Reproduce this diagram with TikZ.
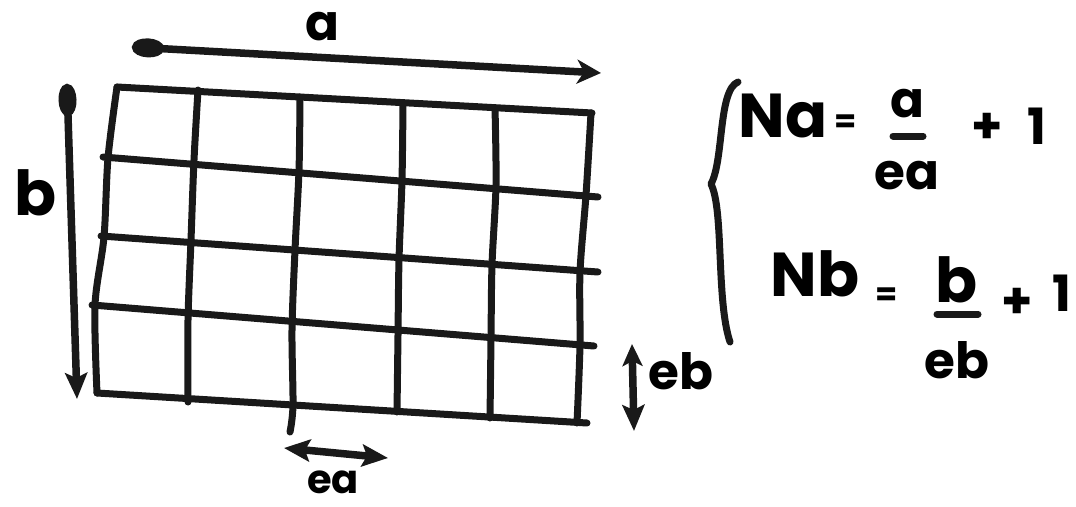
\documentclass[tikz,border=0pt]{standalone}
\usepackage{fontspec}
\setmainfont{Poppins}
\usetikzlibrary{arrows.meta}
\begin{document}
\begin{tikzpicture}[x=1pt,y=-1pt,
  ink/.style={line width=7pt,line cap=round,line join=round,color=black!90},
  gridline/.style={ink},
  dimarrow/.style={ink,line width=7.5pt},
  lbl/.style={inner sep=0pt,font=\fontsize{50}{54}\selectfont\bfseries},
  smlbl/.style={inner sep=0pt,font=\fontsize{40}{44}\selectfont\bfseries},
  biglbl/.style={inner sep=0pt,font=\fontsize{62}{66}\selectfont\bfseries},
  smalllbl/.style={inner sep=0pt,font=\fontsize{32}{36}\selectfont\bfseries},
]
\path[use as bounding box] (0,0) rectangle (1076,506);

% grid: horizontal lines
\coordinate (h0l) at (117,87);  \coordinate (h0r) at (592,113);
\coordinate (h1l) at (103,157); \coordinate (h1r) at (598,197);
\coordinate (h2l) at (101,236); \coordinate (h2r) at (598,272);
\coordinate (h3l) at (92,305);  \coordinate (h3r) at (594,346);
\coordinate (h4l) at (97,393);  \coordinate (h4r) at (587,423);
\draw[gridline] (h0l) -- (h0r);
\draw[gridline] (h1l) -- (h1r);
\draw[gridline] (h2l) -- (h2r);
\draw[gridline] (h3l) -- (h3r);
\draw[gridline] (h4l) -- (h4r);

% grid: vertical lines
\draw[gridline] plot[smooth] coordinates {(117,87) (108,158) (104,237) (95,305) (97,393)};
\draw[gridline] plot[smooth] coordinates {(198,90) (194,160) (191,240) (188,320) (188,402)};
\draw[gridline] plot[smooth] coordinates {(300,97) (299,170) (295,250) (292,330) (293,405) (290,432)};
\draw[gridline] plot[smooth] coordinates {(403,103) (402,180) (399,260) (398,335) (397,412)};
\draw[gridline] plot[smooth] coordinates {(495,108) (496,185) (492,265) (491,340) (490,418)};
\draw[gridline] plot[smooth] coordinates {(591,113) (586,195) (580,272) (580,345) (577,423)};

% dimension arrows
\coordinate (aS) at (132,47);  \coordinate (aE) at (601,73);
\draw[dimarrow,{Ellipse[length=32pt,width=19pt]}-{Stealth[length=24pt,width=24pt,inset=7pt]}] (aS) -- (aE);
\coordinate (bS) at (67,84);  \coordinate (bE) at (77,399);
\draw[dimarrow,{Ellipse[length=32pt,width=18pt]}-{Stealth[length=26pt,width=22pt,inset=5pt]}] (bS) -- (bE);
\coordinate (eaS) at (284,448); \coordinate (eaE) at (388,458);
\draw[dimarrow,{Stealth[length=26pt,width=22pt,inset=5pt]}-{Stealth[length=26pt,width=22pt,inset=5pt]}] (eaS) -- (eaE);
\coordinate (ebS) at (632,344); \coordinate (ebE) at (634,431);
\draw[dimarrow,{Stealth[length=22pt,width=20pt,inset=5pt]}-{Stealth[length=26pt,width=22pt,inset=5pt]}] (ebS) -- (ebE);

% labels
\node[lbl] (la) at (322,27) {a};
\node[biglbl] (lb) at (36,193) {b};
\node[lbl] (leb) at (681,371) {eb};
\node[smlbl] (lea) at (333,482) {ea};

% brace
\draw[ink] (738,82) .. controls (718,90) and (724,160) .. (711,184)
  .. controls (724,210) and (716,300) .. (730,342);

% formula 1
\node[biglbl] (Na) at (783,116) {Na};
\node[smalllbl] (eq1) at (846,124) {=};
\node[lbl] (fa) at (907,104) {a};
\draw[ink] (893,136) -- (923,136);
\node[lbl] (fea) at (907,176) {ea};
\node[lbl] (p1) at (987,128) {+};
\node[lbl] (o1) at (1037,126) {1};

% formula 2
\node[biglbl] (Nb) at (815,274) {Nb};
\node[smalllbl] (eq2) at (887,297) {=};
\node[biglbl] (fb) at (957,280) {b};
\draw[ink] (937,314) -- (978,314);
\node[lbl] (feb) at (957,360) {eb};
\node[lbl] (p2) at (1017,303) {+};
\node[lbl] (o2) at (1062,293) {1};
\end{tikzpicture}
\end{document}
